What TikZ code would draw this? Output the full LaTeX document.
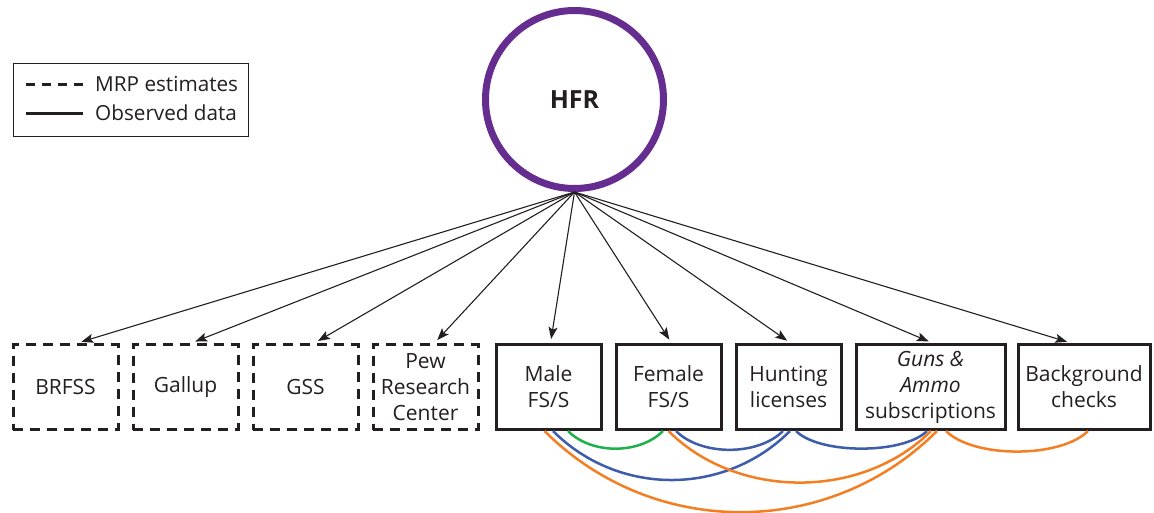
\documentclass[tikz,border=0pt]{standalone}
\usepackage{fontspec}
\setmainfont{Open Sans}
\usetikzlibrary{arrows.meta,positioning}
\definecolor{hfrpurple}{HTML}{662D91}
\definecolor{ink}{HTML}{231F20}
\definecolor{linkgreen}{HTML}{1DB04B}
\definecolor{linkblue}{HTML}{3D5CA9}
\definecolor{linkorange}{HTML}{F47E22}
\tikzset{
  src/.style={draw=ink,line width=3pt,minimum width=105pt,minimum height=85pt,
    align=center,inner sep=0pt,font=\fontsize{21}{26}\selectfont,text=ink},
  mrpbox/.style={src,dash pattern=on 10pt off 7pt},
  obsbox/.style={src},
  arrow/.style={-{Stealth[length=12pt,width=9pt,inset=2.5pt]},line width=1.1pt,
    draw=ink,shorten >=4pt},
  link/.style={line width=2.5pt,out=-45,in=-135},
  legendtext/.style={font=\fontsize{20.7}{24}\selectfont,text=ink,inner sep=0pt}
}
\begin{document}
\begin{tikzpicture}[x=1pt,y=1pt,node distance=12pt]
  \useasboundingbox (0,0) rectangle (1154,-512);

  \node[circle,draw=hfrpurple,line width=7pt,minimum size=178pt,inner sep=0pt,
    font=\fontsize{25}{30}\selectfont\bfseries,text=ink] (hfr) at (574.5,-99.5) {HFR};

  \node[mrpbox] (brfss) at (65.5,-387) {BRFSS};
  \node[mrpbox,right=of brfss] (gallup) {Gallup};
  \node[mrpbox,right=of gallup] (gss) {GSS};
  \node[mrpbox,right=of gss] (pew) {Pew\\Research\\Center};
  \node[obsbox,right=15pt of pew] (male) {Male\\FS/S};
  \node[obsbox,right=of male] (female) {Female\\FS/S};
  \node[obsbox,right=of female] (hunting) {Hunting\\licenses};
  \node[obsbox,right=of hunting,minimum width=149pt] (guns)
    {\textit{Guns \&}\\\textit{Ammo}\\subscriptions};
  \node[obsbox,right=10pt of guns,minimum width=132pt] (checks) {Background\\checks};

  \draw[arrow] (hfr.south) -- ([xshift=12pt]brfss.north);
  \draw[arrow] (hfr.south) -- ([xshift=6pt]gallup.north);
  \draw[arrow] (hfr.south) -- ([xshift=9pt]gss.north);
  \draw[arrow] (hfr.south) -- ([xshift=9pt]pew.north);
  \draw[arrow] (hfr.south) -- ([xshift=2pt]male.north);
  \draw[arrow] (hfr.south) -- ([xshift=3pt]female.north);
  \draw[arrow] (hfr.south) -- ([xshift=2pt]hunting.north);
  \draw[arrow] (hfr.south) -- ([xshift=2pt]guns.north);
  \draw[arrow] (hfr.south) -- ([xshift=-13pt]checks.north);

  \draw[link,linkgreen,looseness=.9] ([xshift=19.5pt]male.south) to ([xshift=-5.5pt]female.south);
  \draw[link,linkblue] ([xshift=4.5pt]male.south) to ([xshift=1.5pt]hunting.south);
  \draw[link,linkorange] ([xshift=-4pt]male.south) to ([xshift=6.5pt]guns.south);
  \draw[link,linkblue,looseness=.85] ([xshift=7.5pt]female.south) to ([xshift=-5.5pt]hunting.south);
  \draw[link,linkorange,looseness=.95] (female.south) to ([xshift=.5pt]guns.south);
  \draw[link,linkblue,looseness=.65] ([xshift=7.5pt]hunting.south) to ([xshift=-3.5pt]guns.south);
  \draw[link,linkorange,looseness=.7] ([xshift=15.5pt]guns.south) to ([xshift=4pt]checks.south);

  \node[draw=ink,line width=1pt,minimum width=235pt,minimum height=73pt] (legend) at (131,-100) {};
  \node[legendtext,anchor=west] (mrptext) at (95,-84) {MRP estimates};
  \node[legendtext,anchor=west] (obstext) at (95,-113) {Observed data};
  \draw[line width=3pt,draw=ink,dash pattern=on 9pt off 7pt]
    ([xshift=-69pt]mrptext.west) -- ([xshift=-12pt]mrptext.west);
  \draw[line width=3pt,draw=ink] ([xshift=-69pt]obstext.west) -- ([xshift=-12pt]obstext.west);
\end{tikzpicture}
\end{document}
